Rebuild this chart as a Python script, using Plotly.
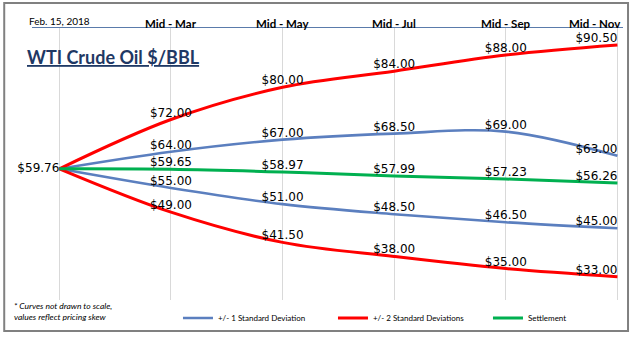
import plotly.graph_objects as go

# Forward curve dates and price levels ($/BBL)
dates = ["Feb. 15, 2018", "Mid - Mar", "Mid - May", "Mid - Jul", "Mid - Sep", "Mid - Nov"]
settlement = [59.76, 59.65, 58.97, 57.99, 57.23, 56.26]
sd1_upper = [59.76, 64.00, 67.00, 68.50, 69.00, 63.00]
sd1_lower = [59.76, 55.00, 51.00, 48.50, 46.50, 45.00]
sd2_upper = [59.76, 72.00, 80.00, 84.00, 88.00, 90.50]
sd2_lower = [59.76, 49.00, 41.50, 38.00, 35.00, 33.00]

BLUE = "#5b7fbf"
RED = "#ff0000"
GREEN = "#00b050"
LABEL_FONT = dict(family="DejaVu Sans", size=12, color="#000000")

x = list(range(len(dates)))
last = len(dates) - 1


def labels(values, show_first=False):
    txt, pos = [], []
    for i, v in enumerate(values):
        if i == 0:
            txt.append(f"${v:.2f}" if show_first else "")
            pos.append("middle left")
        elif i == last:
            txt.append(f"${v:.2f}")
            pos.append("top left")
        else:
            txt.append(f"${v:.2f}")
            pos.append("top center")
    return txt, pos


fig = go.Figure()


def add_curve(values, color, width, name, group, showlegend, show_first=False):
    txt, pos = labels(values, show_first)
    fig.add_trace(go.Scatter(
        x=x, y=values, mode="lines+text", name=name,
        legendgroup=group, showlegend=showlegend,
        line=dict(color=color, width=width, shape="spline", smoothing=1.0),
        text=txt, textposition=pos, textfont=LABEL_FONT,
        cliponaxis=False, hoverinfo="skip",
    ))


add_curve(sd1_upper, BLUE, 2.6, "+/- 1 Standard Deviation", "sd1", True)
add_curve(sd1_lower, BLUE, 2.6, "+/- 1 Standard Deviation", "sd1", False)
add_curve(sd2_upper, RED, 3, "+/- 2 Standard Deviations", "sd2", True)
add_curve(sd2_lower, RED, 3, "+/- 2 Standard Deviations", "sd2", False)
add_curve(settlement, GREEN, 3, "Settlement", "settle", True, show_first=True)

# Date labels sit on top of the axis line; the last one is right-aligned to stay inside the frame
date_labels = []
for i, d in enumerate(dates):
    first = i == 0
    date_labels.append(dict(
        text=d if first else f"<b>{d}</b>",
        xref="x", yref="paper", x=i, y=1.0,
        xanchor="right" if i == last else "center", yanchor="bottom",
        xshift=6 if i == last else 0, yshift=-1 if first else -4,
        showarrow=False,
        font=dict(family="Lato", size=10 if first else 11.5, color="#000000"),
    ))

fig.update_layout(
    width=633, height=337,
    margin=dict(l=32, r=10, t=28, b=37, autoexpand=False),
    paper_bgcolor="#ffffff", plot_bgcolor="#ffffff",
    font=dict(family="Lato", color="#000000"),
    xaxis=dict(
        side="top", range=[-0.245, 5.05],
        tickvals=x, showticklabels=False,
        ticks="", showline=True, linecolor="#5a7bab", linewidth=1,
        showgrid=True, gridcolor="#d9d9d9", gridwidth=1,
        zeroline=False, fixedrange=True, automargin=False,
    ),
    yaxis=dict(range=[27.2, 94.72], visible=False, showgrid=False, fixedrange=True),
    showlegend=True,
    legend=dict(
        orientation="h", x=0.247, xanchor="left", y=-0.066, yanchor="middle",
        font=dict(family="Lato", size=8, color="#000000"),
        entrywidth=110, entrywidthmode="pixels",
        bgcolor="rgba(0,0,0,0)", traceorder="normal",
    ),
    annotations=date_labels + [
        dict(text="<b><u>WTI Crude Oil $/BBL</u></b>", xref="paper", yref="paper",
             x=-0.012, y=0.895, xanchor="left", yanchor="middle", showarrow=False,
             font=dict(family="Lato", size=18, color="#1f3864")),
        dict(text="<i>* Curves not drawn to scale,<br>values reflect pricing skew</i>",
             xref="paper", yref="paper", x=-0.034, y=-0.044, xanchor="left", yanchor="middle",
             align="left", showarrow=False,
             font=dict(family="Lato", size=8.5, color="#000000")),
    ],
    shapes=[
        dict(type="rect", xref="paper", yref="paper",
             x0=-0.047, x1=1.0085, y0=-0.114, y1=1.092,
             line=dict(color="#808080", width=2), fillcolor="rgba(0,0,0,0)", layer="below"),
    ],
)

fig.write_html("out.html")
